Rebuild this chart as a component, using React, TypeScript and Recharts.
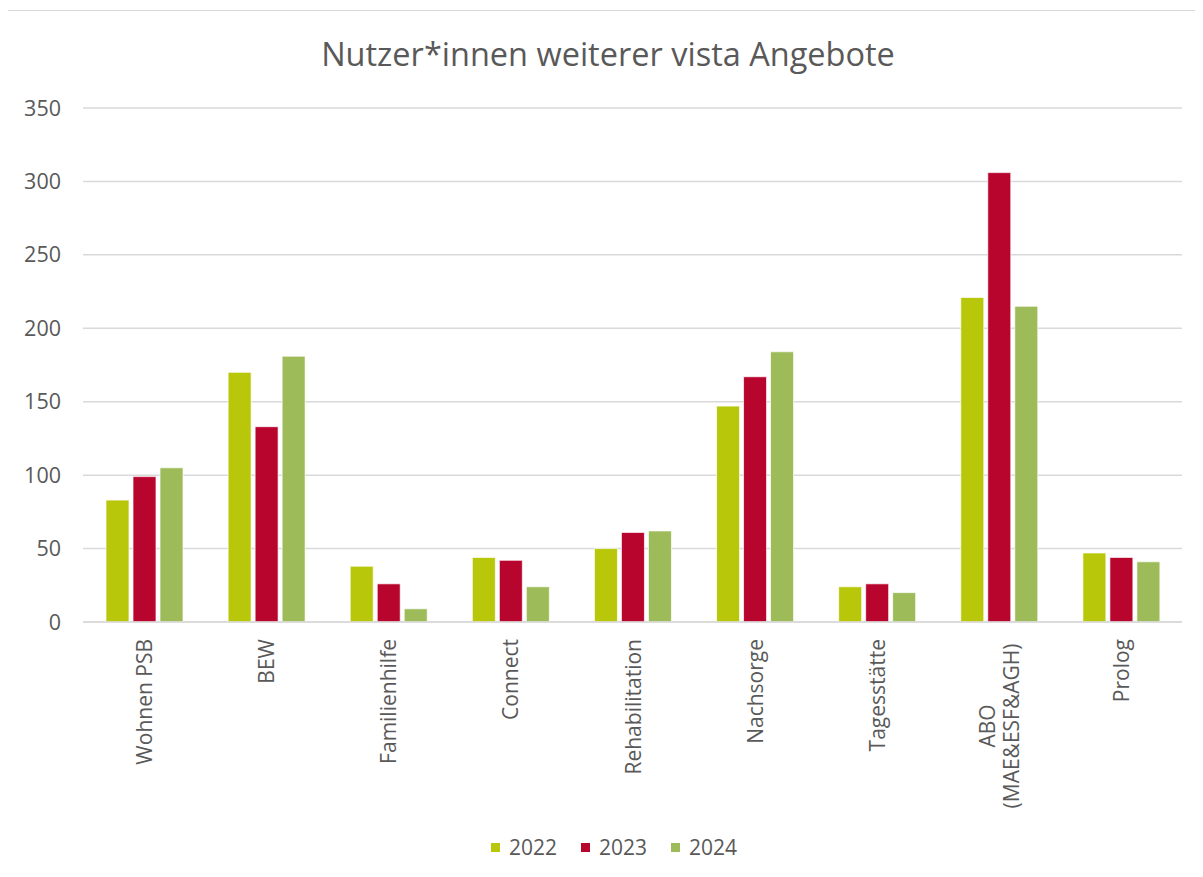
import React from 'react';
import { BarChart, Bar, XAxis, YAxis, CartesianGrid } from 'recharts';

const categories = [
  'Wohnen PSB',
  'BEW',
  'Familienhilfe',
  'Connect',
  'Rehabilitation',
  'Nachsorge',
  'Tagesstätte',
  'ABO (MAE&ESF&AGH)',
  'Prolog',
];
const values2022 = [83, 170, 38, 44, 50, 147, 24, 221, 47];
const values2023 = [99, 133, 26, 42, 61, 167, 26, 306, 44];
const values2024 = [105, 181, 9, 24, 62, 184, 20, 215, 41];
const yTicks = [0, 50, 100, 150, 200, 250, 300, 350];

const series = [
  { key: 'y2022', name: '2022', color: '#B8C709' },
  { key: 'y2023', name: '2023', color: '#B8052E' },
  { key: 'y2024', name: '2024', color: '#9DBB59' },
];

const data = categories.map((c, i) => ({
  name: c,
  y2022: values2022[i],
  y2023: values2023[i],
  y2024: values2024[i],
}));

const FONT = '"Open Sans", "Liberation Sans", sans-serif';
const TEXT = '#595959';

const XTick = (props: any) => {
  const { x, y, payload } = props;
  const label: string = payload.value;
  if (label.startsWith('ABO')) {
    return (
      <g>
        <text transform={`translate(${x - 12},${y + 96}) rotate(-90)`} textAnchor="middle" dominantBaseline="central" fill={TEXT} fontSize={21} fontFamily={FONT}>ABO</text>
        <text transform={`translate(${x + 12},${y + 96}) rotate(-90)`} textAnchor="middle" dominantBaseline="central" fill={TEXT} fontSize={21} fontFamily={FONT}>(MAE&amp;ESF&amp;AGH)</text>
      </g>
    );
  }
  return (
    <text transform={`translate(${x},${y + 9}) rotate(-90)`} textAnchor="end" dominantBaseline="central" fill={TEXT} fontSize={21} fontFamily={FONT}>
      {label}
    </text>
  );
};

export default function App() {
  return (
    <div
      style={{
        position: 'relative',
        left: -1,
        top: 2,
        width: 1200,
        height: 870,
        border: '1px solid #d9d9d9',
        boxSizing: 'border-box',
        background: '#fff',
        fontFamily: FONT,
      }}
    >
      <div
        style={{
          position: 'absolute',
          left: 0,
          top: 22,
          width: 1200,
          textAlign: 'center',
          fontSize: 32.5,
          color: TEXT,
          lineHeight: '42px',
        }}
      >
        Nutzer*innen weiterer vista Angebote
      </div>
      <div style={{ position: 'absolute', left: 0, top: 0 }}>
        <BarChart
          width={1190}
          height={860}
          data={data}
          margin={{ top: 97, right: 16, left: 0, bottom: 89 }}
          barGap={4}
          barSize={23}
        >
          <CartesianGrid vertical={false} stroke="#d9d9d9" strokeWidth={1.5} />
          <XAxis
            dataKey="name"
            interval={0}
            height={160}
            tickLine={false}
            axisLine={{ stroke: '#d9d9d9', strokeWidth: 1.5 }}
            tick={<XTick />}
          />
          <YAxis
            width={75}
            domain={[0, 350]}
            ticks={yTicks}
            tickLine={false}
            axisLine={false}
            tickSize={0}
            tickMargin={22}
            tick={{ fill: TEXT, fontSize: 21.5, fontFamily: FONT }}
          />
          {series.map((s) => (
            <Bar key={s.key} dataKey={s.key} name={s.name} fill={s.color} stroke="#ffffff" strokeWidth={0.7} isAnimationActive={false} />
          ))}
        </BarChart>
      </div>
      <div
        style={{
          position: 'absolute',
          left: 6,
          top: 822,
          width: 1200,
          display: 'flex',
          justifyContent: 'center',
          alignItems: 'center',
          fontSize: 21,
          color: TEXT,
        }}
      >
        {series.map((s) => (
          <div key={s.key} style={{ display: 'flex', alignItems: 'center', margin: '0 12px' }}>
            <span style={{ display: 'inline-block', width: 9, height: 9, background: s.color, marginRight: 9 }} />
            <span>{s.name}</span>
          </div>
        ))}
      </div>
    </div>
  );
}
